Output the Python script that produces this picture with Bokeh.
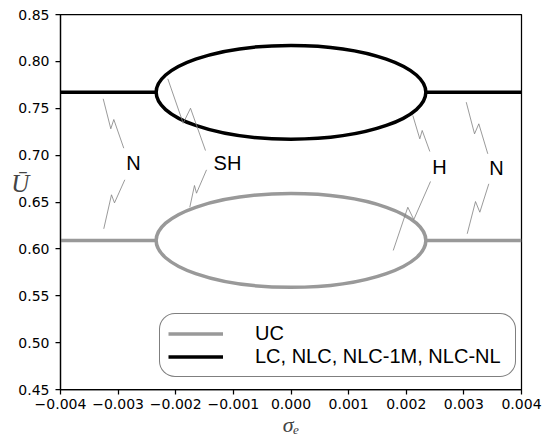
from bokeh.plotting import figure
from bokeh.models import (Range1d, FixedTicker, CustomJSTickFormatter, Legend,
                          LegendItem)
from bokeh.core.properties import value
from bokeh.embed import file_html
from bokeh.resources import INLINE

# ---------------- data ----------------
x_ticks = [-0.004, -0.003, -0.002, -0.001, 0.0, 0.001, 0.002, 0.003, 0.004]
y_ticks = [0.45, 0.50, 0.55, 0.60, 0.65, 0.70, 0.75, 0.80, 0.85]

# branches outside the bubble (sigma_e values)
sigma_left = [-0.004, -0.00234]
sigma_right = [0.00234, 0.004]

# UC (grey) response
uc_level = [0.609, 0.609]
uc_center = [0.0, 0.609]      # (sigma, U) of bubble centre
uc_size = [0.00468, 0.100]    # full width, full height

# LC, NLC, NLC-1M, NLC-NL (black) response
lc_level = [0.767, 0.767]
lc_center = [0.0, 0.767]
lc_size = [0.00468, 0.100]

# annotation labels
ann_text = ["N", "SH", "H", "N"]
ann_x = [-0.002733, -0.001102, 0.002577, 0.003566]
ann_y = [0.6911, 0.6921, 0.6873, 0.6868]

# zig-zag leader lines (data coords)
lead_xs = [
    [-0.003259, -0.003127, -0.003075, -0.002902],
    [-0.002884, -0.003063, -0.003115, -0.003249],
    [-0.002138, -0.001871, -0.001744, -0.001484],
    [-0.001466, -0.001640, -0.001675, -0.001756],
    [0.002114, 0.002235, 0.002277, 0.002409],
    [0.002421, 0.002131, 0.002027, 0.001774],
    [0.003041, 0.003185, 0.003259, 0.003415],
    [0.003433, 0.003277, 0.003202, 0.003058],
]
lead_ys = [
    [0.7601, 0.7281, 0.7380, 0.7074],
    [0.6737, 0.6491, 0.6577, 0.6214],
    [0.7814, 0.7340, 0.7500, 0.7049],
    [0.6843, 0.6594, 0.6676, 0.6444],
    [0.7423, 0.7174, 0.7263, 0.7039],
    [0.6719, 0.6313, 0.6444, 0.5983],
    [0.7565, 0.7227, 0.7334, 0.7014],
    [0.6694, 0.6391, 0.6505, 0.6161],
]

GREY = "#999999"
BLACK = "#000000"
LW = 3.5

p = figure(width=550, height=439,
           x_range=Range1d(-0.004, 0.004), y_range=Range1d(0.45, 0.85),
           output_backend="svg", toolbar_location=None,
           min_border_left=60, min_border_right=29,
           min_border_top=14, min_border_bottom=50)
p.background_fill_color = "white"
p.border_fill_color = "white"
p.grid.visible = False
p.outline_line_color = "black"
p.outline_line_width = 1.25

for ax in (p.xaxis[0], p.yaxis[0]):
    ax.axis_line_width = 1.25
    ax.major_tick_line_width = 1.25
    ax.major_tick_out = 5
    ax.major_tick_in = 0
    ax.minor_tick_line_color = None
    ax.major_label_text_font = "DejaVu Sans"
    ax.major_label_text_font_size = "14px"
    ax.major_label_text_color = "black"

p.xaxis.ticker = FixedTicker(ticks=x_ticks)
p.yaxis.ticker = FixedTicker(ticks=y_ticks)
p.xaxis.formatter = CustomJSTickFormatter(
    code="return (tick < -1e-12 ? '\u2212' : '') + Math.abs(tick).toFixed(3);")
p.yaxis.formatter = CustomJSTickFormatter(code="return tick.toFixed(2);")
p.xaxis.major_label_standoff = 4
p.yaxis.major_label_standoff = 6

p.xaxis.axis_label = "\u03c3\u2091"
p.xaxis.axis_label_text_font = "Liberation Serif"
p.xaxis.axis_label_text_font_style = "italic"
p.xaxis.axis_label_text_font_size = "22px"
p.xaxis.axis_label_standoff = 0

p.yaxis.axis_label = "\u016a\n"
p.yaxis.axis_label_orientation = "horizontal"
p.yaxis.axis_label_text_font = "Liberation Serif"
p.yaxis.axis_label_text_font_style = "italic"
p.yaxis.axis_label_text_font_size = "25px"
p.yaxis.axis_label_text_line_height = 1.4
p.yaxis.axis_label_standoff = -14

# curves
r_uc = p.line(sigma_left, uc_level, line_color=GREY, line_width=LW)
p.line(sigma_right, uc_level, line_color=GREY, line_width=LW)
p.ellipse(x=[uc_center[0]], y=[uc_center[1]], width=[uc_size[0]], height=[uc_size[1]],
          fill_color=None, line_color=GREY, line_width=LW)

r_lc = p.line(sigma_left, lc_level, line_color=BLACK, line_width=LW)
p.line(sigma_right, lc_level, line_color=BLACK, line_width=LW)
p.ellipse(x=[lc_center[0]], y=[lc_center[1]], width=[lc_size[0]], height=[lc_size[1]],
          fill_color=None, line_color=BLACK, line_width=LW)

# leaders and labels
p.multi_line(lead_xs, lead_ys, line_color="#808080", line_width=0.8)
p.text(x=ann_x, y=ann_y, text=ann_text, text_font=value("Liberation Sans"),
       text_font_size="20px", text_align="center", text_baseline="middle",
       text_color="black")

legend = Legend(items=[LegendItem(label="UC", renderers=[r_uc]),
                       LegendItem(label="LC, NLC, NLC-1M, NLC-NL", renderers=[r_lc])],
                location=(99, 12), margin=0, padding=8, spacing=0,
                glyph_width=55, glyph_height=21, label_height=21, label_width=252,
                label_standoff=32, label_text_font="Liberation Sans",
                label_text_font_size="20px", label_text_color="black",
                border_line_color="black", border_line_width=1.5,
                background_fill_color="white", background_fill_alpha=1.0)
if "border_radius" in Legend.properties():
    legend.border_radius = 16
p.add_layout(legend)

open("out.html", "w").write(file_html(p, INLINE))
